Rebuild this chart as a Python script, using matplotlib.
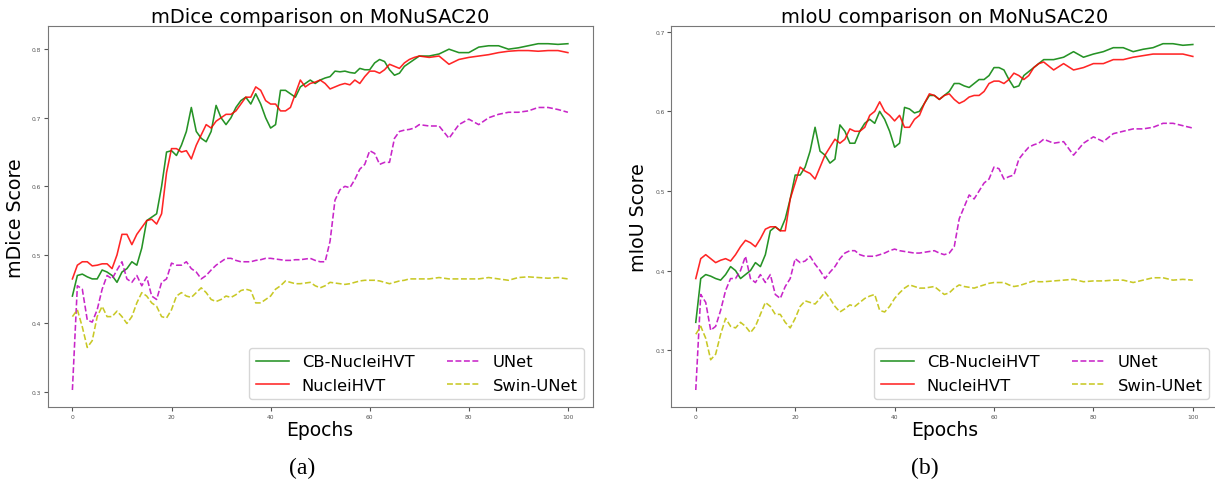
import matplotlib
matplotlib.use("Agg")
import matplotlib.pyplot as plt

epochs = list(range(0, 71)) + list(range(72, 101, 2))

dice_cb = [0.44,0.47,0.472,0.468,0.465,0.465,0.478,0.475,0.47,0.46,0.475,0.48,0.49,0.485,0.51,0.55,0.555,0.56,0.60,0.65,
           0.652,0.645,0.66,0.68,0.715,0.68,0.67,0.665,0.68,0.718,0.70,0.69,0.70,0.715,0.725,0.73,0.72,0.735,0.72,0.70,
           0.685,0.69,0.74,0.74,0.735,0.73,0.745,0.75,0.755,0.75,0.755,0.758,0.76,0.768,0.767,0.768,0.766,0.765,0.772,0.77,
           0.77,0.78,0.785,0.782,0.77,0.762,0.765,0.775,0.78,0.785,0.79,
           0.79,0.793,0.80,0.795,0.795,0.803,0.805,0.805,0.80,0.802,0.805,0.808,0.808,0.807,0.808]
dice_hvt = [0.465,0.485,0.49,0.49,0.484,0.485,0.487,0.487,0.48,0.50,0.53,0.53,0.515,0.53,0.54,0.55,0.552,0.545,0.56,0.62,
            0.655,0.655,0.65,0.652,0.64,0.66,0.675,0.69,0.685,0.695,0.70,0.705,0.705,0.71,0.72,0.73,0.73,0.745,0.74,0.725,
            0.72,0.72,0.71,0.71,0.715,0.735,0.755,0.745,0.75,0.752,0.755,0.75,0.742,0.745,0.748,0.75,0.748,0.755,0.75,0.76,
            0.768,0.768,0.765,0.77,0.778,0.775,0.772,0.78,0.785,0.788,0.79,
            0.788,0.79,0.778,0.785,0.788,0.79,0.792,0.795,0.797,0.798,0.798,0.797,0.798,0.798,0.795]
dice_unet = [0.303,0.455,0.45,0.405,0.402,0.42,0.45,0.47,0.465,0.478,0.49,0.465,0.46,0.47,0.455,0.468,0.44,0.435,0.46,0.465,
             0.488,0.485,0.485,0.49,0.48,0.475,0.465,0.47,0.478,0.485,0.49,0.495,0.495,0.492,0.49,0.49,0.49,0.492,0.493,0.495,
             0.495,0.494,0.493,0.492,0.492,0.493,0.493,0.494,0.495,0.492,0.49,0.49,0.52,0.58,0.595,0.60,0.598,0.61,0.625,0.632,
             0.652,0.648,0.632,0.635,0.635,0.67,0.68,0.682,0.683,0.685,0.69,
             0.688,0.688,0.67,0.69,0.698,0.69,0.70,0.705,0.708,0.708,0.71,0.715,0.715,0.712,0.708]
dice_swin = [0.41,0.42,0.395,0.365,0.375,0.41,0.425,0.41,0.41,0.418,0.41,0.40,0.41,0.43,0.445,0.44,0.43,0.425,0.41,0.408,
             0.42,0.44,0.445,0.44,0.438,0.445,0.452,0.445,0.435,0.432,0.435,0.44,0.438,0.442,0.448,0.45,0.448,0.43,0.43,0.435,
             0.44,0.45,0.455,0.462,0.46,0.458,0.458,0.459,0.46,0.455,0.452,0.455,0.46,0.459,0.458,0.457,0.458,0.46,0.462,0.463,
             0.463,0.463,0.462,0.46,0.458,0.46,0.462,0.463,0.465,0.465,0.465,
             0.465,0.467,0.465,0.465,0.465,0.465,0.467,0.465,0.463,0.467,0.468,0.467,0.466,0.467,0.465]

iou_cb = [0.335,0.39,0.395,0.393,0.39,0.388,0.395,0.405,0.40,0.39,0.395,0.40,0.41,0.405,0.42,0.45,0.455,0.45,0.465,0.49,
          0.52,0.52,0.53,0.55,0.58,0.55,0.545,0.535,0.54,0.583,0.575,0.56,0.56,0.575,0.585,0.59,0.585,0.60,0.59,0.575,
          0.555,0.56,0.605,0.603,0.598,0.60,0.61,0.62,0.62,0.615,0.62,0.625,0.635,0.635,0.632,0.63,0.635,0.64,0.64,0.645,
          0.655,0.655,0.652,0.64,0.63,0.632,0.645,0.65,0.655,0.66,0.665,
          0.665,0.668,0.675,0.668,0.672,0.675,0.68,0.68,0.675,0.678,0.68,0.685,0.685,0.683,0.684]
iou_hvt = [0.39,0.415,0.42,0.415,0.41,0.413,0.415,0.412,0.42,0.43,0.438,0.435,0.43,0.44,0.452,0.455,0.455,0.45,0.45,0.49,
           0.51,0.53,0.525,0.522,0.515,0.53,0.545,0.555,0.565,0.56,0.565,0.578,0.575,0.575,0.58,0.595,0.60,0.612,0.60,0.595,
           0.588,0.595,0.58,0.58,0.59,0.595,0.61,0.622,0.62,0.615,0.62,0.622,0.615,0.61,0.613,0.618,0.62,0.62,0.625,0.635,
           0.638,0.638,0.635,0.64,0.648,0.645,0.64,0.645,0.655,0.66,0.662,
           0.652,0.66,0.652,0.655,0.66,0.66,0.665,0.665,0.668,0.67,0.672,0.672,0.672,0.672,0.669]
iou_unet = [0.25,0.37,0.36,0.325,0.33,0.35,0.375,0.39,0.39,0.40,0.418,0.39,0.385,0.395,0.385,0.395,0.37,0.365,0.38,0.39,
            0.415,0.41,0.412,0.418,0.408,0.40,0.39,0.398,0.405,0.415,0.422,0.425,0.425,0.42,0.418,0.418,0.418,0.42,0.422,0.425,
            0.427,0.425,0.424,0.423,0.422,0.422,0.423,0.424,0.425,0.422,0.42,0.422,0.43,0.465,0.48,0.495,0.49,0.50,0.51,0.515,
            0.53,0.528,0.515,0.518,0.52,0.54,0.548,0.555,0.558,0.56,0.565,
            0.56,0.562,0.545,0.56,0.568,0.562,0.572,0.575,0.578,0.578,0.58,0.585,0.585,0.582,0.579]
iou_swin = [0.32,0.33,0.315,0.288,0.295,0.32,0.34,0.33,0.328,0.335,0.33,0.322,0.33,0.345,0.36,0.355,0.345,0.345,0.335,0.328,
            0.34,0.355,0.362,0.36,0.358,0.365,0.373,0.365,0.355,0.348,0.352,0.357,0.355,0.36,0.365,0.368,0.37,0.35,0.348,0.355,
            0.365,0.372,0.378,0.382,0.38,0.378,0.378,0.379,0.38,0.375,0.37,0.372,0.378,0.382,0.38,0.379,0.378,0.38,0.382,0.384,
            0.385,0.385,0.385,0.382,0.38,0.381,0.383,0.385,0.387,0.386,0.386,
            0.387,0.388,0.389,0.386,0.387,0.387,0.388,0.388,0.385,0.388,0.391,0.391,0.388,0.389,0.388]

labels = ["CB-NucleiHVT", "NucleiHVT", "UNet", "Swin-UNet"]
titles = ["mDice comparison on MoNuSAC20", "mIoU comparison on MoNuSAC20"]
ylabels = ["mDice Score", "mIoU Score"]
captions = ["(a)", "(b)"]
xticks = [0, 20, 40, 60, 80, 100]

fig = plt.figure(figsize=(12.15, 4.89), dpi=100)
ax1 = fig.add_axes([0.0392, 0.165, 0.4486, 0.779])
ax2 = fig.add_axes([0.5522, 0.165, 0.4500, 0.779])

styles = [dict(color="green", ls="-"), dict(color="red", ls="-"),
          dict(color="m", ls="--"), dict(color="y", ls="--")]

for ax, series, title, ylab in [(ax1, [dice_cb, dice_hvt, dice_unet, dice_swin], titles[0], ylabels[0]),
                                (ax2, [iou_cb, iou_hvt, iou_unet, iou_swin], titles[1], ylabels[1])]:
    for s, lab, st in zip(series, labels, styles):
        ax.plot(epochs, s, label=lab, lw=1.15, alpha=0.85, **st)
    ax.set_title(title, fontsize=14, pad=2)
    ax.set_ylabel(ylab, fontsize=13.7)
    ax.yaxis.set_label_coords(-0.0415, 0.5)
    ax.set_xlabel("Epochs", fontsize=13.5, labelpad=1)
    ax.set_xticks(xticks)
    ax.tick_params(labelsize=4.3, length=3, pad=1.5, colors="#555555")
    for sp in ax.spines.values():
        sp.set_color("#777777")
    ax.legend(loc="lower right", ncol=2, fontsize=11.8, columnspacing=2.0)

fig.text(0.249, 0.043, captions[0], family="Liberation Serif", fontsize=17, ha="center", va="center")
fig.text(0.761, 0.043, captions[1], family="Liberation Serif", fontsize=17, ha="center", va="center")

fig.savefig("out.png", dpi=100)
